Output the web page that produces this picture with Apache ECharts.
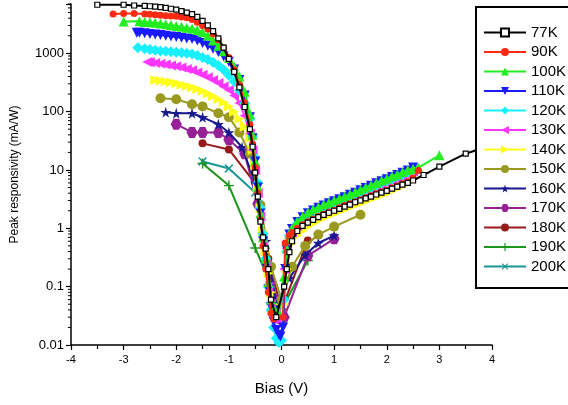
<!DOCTYPE html>
<html>
<head>
<meta charset="utf-8">
<script src="https://cdn.jsdelivr.net/npm/echarts@6/dist/echarts.min.js"></script>
<style>
  html, body { margin: 0; padding: 0; background: #fff; }
  #chart { width: 568px; height: 405px; }
</style>
</head>
<body>
<div id="chart"></div>
<script>
// Peak responsivity vs bias, one curve per temperature: [bias (V), responsivity (mA/W)]
const T77 = [[-3.5,6800],[-3.0,6800],[-2.8,6600],[-2.6,6500],[-2.5,6400],[-2.4,6300],[-2.3,6200],[-2.2,6000],[-2.1,5800],[-2.0,5600],[-1.9,5300],[-1.8,5000],[-1.7,4700],[-1.6,4200],[-1.5,3600],[-1.4,3000],[-1.3,2400],[-1.2,1800],[-1.1,1250],[-1.0,800],[-0.9,480],[-0.8,260],[-0.7,120],[-0.6,50],[-0.55,25],[-0.5,9],[-0.45,3.5],[-0.4,1.3],[-0.35,0.7],[-0.3,0.45],[-0.25,0.2],[-0.2,0.06],[-0.1,0.03],[0.05,0.1],[0.1,0.2],[0.15,0.39],[0.2,0.6],[0.3,0.9],[0.4,1.1],[0.5,1.25],[0.6,1.4],[0.7,1.55],[0.8,1.7],[0.9,1.85],[1.0,2.0],[1.1,2.15],[1.2,2.35],[1.3,2.55],[1.4,2.8],[1.5,3.0],[1.6,3.25],[1.7,3.5],[1.8,3.8],[1.9,4.1],[2.0,4.4],[2.1,4.8],[2.2,5.2],[2.3,5.6],[2.4,6.0],[2.5,6.6],[2.7,8.2],[3.0,11.4],[3.5,19],[4.0,27]];
const T90 = [[-3.2,4700],[-3.0,4800],[-2.8,4800],[-2.6,4700],[-2.5,4650],[-2.4,4600],[-2.3,4500],[-2.2,4400],[-2.1,4350],[-2.0,4300],[-1.9,4200],[-1.8,4050],[-1.7,3800],[-1.6,3400],[-1.5,3000],[-1.4,2600],[-1.3,2150],[-1.2,1700],[-1.1,1250],[-1.0,850],[-0.9,520],[-0.8,290],[-0.7,140],[-0.6,60],[-0.55,28],[-0.5,11],[-0.45,4],[-0.4,1.4],[-0.35,0.5],[-0.3,0.2],[-0.25,0.08],[-0.2,0.035],[-0.15,0.028],[0.03,0.03],[0.07,0.56],[0.15,0.75],[0.2,0.85],[0.3,1.0],[0.4,1.15],[0.5,1.3],[0.6,1.45],[0.7,1.6],[0.8,1.75],[0.9,1.9],[1.0,2.05],[1.1,2.25],[1.2,2.45],[1.3,2.65],[1.4,2.85],[1.5,3.1],[1.6,3.35],[1.7,3.6],[1.8,3.9],[1.9,4.2],[2.0,4.5],[2.1,4.9],[2.2,5.3],[2.3,5.8],[2.4,6.3],[2.5,7.2],[2.6,9.8]];
const T100 = [[-3.0,3500],[-2.7,3550],[-2.6,3450],[-2.5,3400],[-2.4,3350],[-2.3,3250],[-2.2,3150],[-2.1,3050],[-2.0,2950],[-1.9,2850],[-1.8,2750],[-1.7,2650],[-1.6,2500],[-1.5,2300],[-1.4,2000],[-1.3,1650],[-1.2,1350],[-1.1,1080],[-1.0,830],[-0.9,600],[-0.8,400],[-0.7,220],[-0.6,90],[-0.55,40],[-0.5,14],[-0.45,5],[-0.4,1.8],[-0.35,0.7],[-0.3,0.3],[-0.25,0.12],[-0.2,0.06],[-0.15,0.04],[-0.1,0.035],[-0.05,0.035],[0.05,0.15],[0.1,0.45],[0.15,0.8],[0.2,1.0],[0.3,1.32],[0.4,1.6],[0.5,1.87],[0.6,2.1],[0.7,2.3],[0.8,2.55],[0.9,2.75],[1.0,3.0],[1.1,3.25],[1.2,3.5],[1.3,3.85],[1.4,4.2],[1.5,4.6],[1.6,5.0],[1.7,5.5],[1.8,6.0],[1.9,6.6],[2.0,7.1],[2.1,7.8],[2.2,8.4],[2.3,9.2],[2.4,10.0],[2.5,10.5],[2.6,11],[3.0,17.8]];
const T110 = [[-2.75,2250],[-2.7,2250],[-2.6,2200],[-2.5,2150],[-2.4,2100],[-2.3,2050],[-2.2,2000],[-2.1,1950],[-2.0,1900],[-1.9,1850],[-1.8,1800],[-1.7,1750],[-1.6,1650],[-1.5,1500],[-1.4,1350],[-1.3,1200],[-1.2,1050],[-1.1,880],[-1.0,720],[-0.9,530],[-0.8,350],[-0.7,190],[-0.6,80],[-0.55,35],[-0.5,14],[-0.45,5],[-0.4,1.8],[-0.35,0.6],[-0.3,0.22],[-0.25,0.09],[-0.2,0.045],[-0.15,0.025],[-0.1,0.018],[-0.05,0.015],[-0.02,0.014],[0.03,0.02],[0.07,0.2],[0.1,0.42],[0.15,0.78],[0.2,0.97],[0.3,1.28],[0.4,1.55],[0.5,1.82],[0.6,2.03],[0.7,2.25],[0.8,2.46],[0.9,2.68],[1.0,2.9],[1.1,3.15],[1.2,3.42],[1.3,3.75],[1.4,4.07],[1.5,4.5],[1.6,4.9],[1.7,5.35],[1.8,5.9],[1.9,6.4],[2.0,6.95],[2.1,7.6],[2.2,8.2],[2.3,9.0],[2.4,9.8],[2.5,11.0]];
const T120 = [[-2.73,1250],[-2.6,1200],[-2.5,1160],[-2.4,1130],[-2.3,1100],[-2.2,1080],[-2.1,1060],[-2.0,1040],[-1.9,1020],[-1.8,1000],[-1.7,970],[-1.6,920],[-1.5,850],[-1.4,780],[-1.3,700],[-1.2,620],[-1.1,520],[-1.0,420],[-0.9,330],[-0.8,230],[-0.7,140],[-0.6,75],[-0.55,38],[-0.5,16],[-0.45,6],[-0.4,2.2],[-0.35,0.8],[-0.3,0.3],[-0.25,0.1],[-0.2,0.04],[-0.15,0.02],[-0.1,0.013],[-0.05,0.011],[0.0,0.012],[0.05,0.06],[0.1,0.4],[0.15,0.75],[0.2,0.9],[0.3,1.2],[0.4,1.45],[0.5,1.7],[0.6,1.9],[0.7,2.1],[0.8,2.3],[0.9,2.5],[1.0,2.7],[1.1,2.95],[1.2,3.2],[1.3,3.5],[1.4,3.8],[1.5,4.2],[1.6,4.6],[1.7,5.0],[1.8,5.5],[1.9,6.0],[2.0,6.5],[2.1,7.1],[2.2,7.7],[2.3,8.4],[2.4,9.2],[2.5,10.5]];
const T130 = [[-2.55,710],[-2.5,700],[-2.4,680],[-2.3,660],[-2.2,640],[-2.1,620],[-2.0,600],[-1.9,570],[-1.8,540],[-1.7,510],[-1.6,470],[-1.5,430],[-1.4,390],[-1.3,350],[-1.2,310],[-1.1,270],[-1.0,235],[-0.9,190],[-0.8,140],[-0.7,85],[-0.6,42],[-0.55,22],[-0.5,10],[-0.45,4],[-0.4,1.6],[-0.35,0.6],[-0.3,0.25],[-0.25,0.1],[-0.2,0.05],[-0.15,0.03],[-0.1,0.026],[-0.05,0.025],[0.05,0.2],[0.1,0.45],[0.15,0.7],[0.2,0.85],[0.3,1.1],[0.4,1.3],[0.5,1.55],[0.6,1.72],[0.7,1.9],[0.8,2.07],[0.9,2.25],[1.0,2.43],[1.1,2.65],[1.2,2.9],[1.3,3.15],[1.4,3.4],[1.5,3.8],[1.6,4.1],[1.7,4.5],[1.8,4.95],[1.9,5.4],[2.0,5.85],[2.1,6.4],[2.2,6.9],[2.3,7.6],[2.4,8.3],[2.5,9.4]];
const T140 = [[-2.4,350],[-2.3,340],[-2.2,330],[-2.1,320],[-2.0,305],[-1.9,290],[-1.8,275],[-1.7,260],[-1.6,245],[-1.5,225],[-1.4,205],[-1.3,185],[-1.2,165],[-1.1,145],[-1.0,122],[-0.9,100],[-0.8,75],[-0.7,55],[-0.6,35],[-0.55,22],[-0.5,12],[-0.45,5],[-0.4,2.2],[-0.35,0.9],[-0.3,0.4],[-0.25,0.17],[-0.2,0.08],[-0.15,0.05],[-0.1,0.035],[-0.05,0.03],[0.05,0.05],[0.1,0.2],[0.15,0.4],[0.2,0.55],[0.3,0.75],[0.4,0.9],[0.5,1.05],[0.6,1.2],[0.7,1.35],[0.8,1.5],[0.9,1.65],[1.0,1.8],[1.1,1.95],[1.2,2.1],[1.3,2.3],[1.4,2.5],[1.5,2.7],[1.6,2.9],[1.7,3.15],[1.8,3.4],[1.9,3.7],[2.0,4.0],[2.1,4.4],[2.2,4.8],[2.3,5.3],[2.4,6.0],[2.5,7.5]];
const T150 = [[-2.3,170],[-2.0,163],[-1.7,134],[-1.5,123],[-1.2,94],[-1.0,80],[-0.8,44],[-0.6,19],[-0.4,2.5],[-0.2,0.22],[0.0,0.06],[0.2,0.22],[0.45,0.5],[0.7,0.78],[1.0,1.07],[1.5,1.71]];
const T160 = [[-2.2,98],[-2.0,94],[-1.7,94],[-1.5,80],[-1.2,61],[-1.0,44],[-0.75,24.5],[-0.5,6],[-0.3,0.6],[-0.1,0.05],[0.15,0.14],[0.45,0.35],[0.7,0.56],[1.0,0.75]];
const T170 = [[-2.0,61],[-1.7,44],[-1.5,44],[-1.2,44],[-1.0,33],[-0.7,19],[-0.45,2.65],[-0.2,0.12],[0.05,0.03],[0.5,0.34],[1.0,0.66]];
const T180 = [[-1.5,28.6],[-1.0,22.5],[-0.5,5.9],[-0.25,0.3],[0.0,0.04],[0.5,0.62]];
const T190 = [[-1.5,12.9],[-1.0,5.4],[-0.5,0.46],[0.0,0.041],[0.5,0.28]];
const T200 = [[-1.5,14],[-1.0,10.6],[-0.5,4.1],[-0.3,0.4],[-0.05,0.03]];

const NAMES = ['77K','90K','100K','110K','120K','130K','140K','150K','160K','170K','180K','190K','200K'];
const CURVES = [T77, T90, T100, T110, T120, T130, T140, T150, T160, T170, T180, T190, T200];

// axis ranges
const Y_MIN = 0.01, Y_MAX = 7000;
const X_MIN = -4, X_MAX = 4, X_STEP = 1;

const STAR = 'path://M50,0 L61,35 L98,35 L68,57 L79,91 L50,70 L21,91 L32,57 L2,35 L39,35 Z';
const HEX = 'path://M25,0 L75,0 L100,43 L75,86 L25,86 L0,43 Z';
const PLUS = 'path://M43,0 H57 V43 H100 V57 H57 V100 H43 V57 H0 V43 H43 Z';

const STYLES = [
  { color: '#000000', symbol: 'rect', size: 5, hollow: true },
  { color: '#ff2a12', symbol: 'circle', size: 7 },
  { color: '#22ee22', symbol: 'triangle', size: 10 },
  { color: '#1a1aff', symbol: 'triangle', size: 10, rotate: 180 },
  { color: '#19f0ff', symbol: 'diamond', size: 11 },
  { color: '#ff36ff', symbol: 'triangle', size: 10, rotate: 90 },
  { color: '#ffff1a', symbol: 'triangle', size: 10, rotate: -90 },
  { color: '#9a9a20', symbol: 'circle', size: 10 },
  { color: '#181890', symbol: STAR, size: 11 },
  { color: '#962096', symbol: HEX, size: 11 },
  { color: '#961a1a', symbol: 'circle', size: 8 },
  { color: '#1a961a', symbol: PLUS, size: 10 },
  { color: '#1a9696', symbol: PLUS, size: 11, rotate: 45 }
];

// minor tick positions on the log axis (2..9 of each decade)
const minorTicks = [];
for (let e = -2; e <= 3; e++) {
  for (let m = 2; m <= 9; m++) {
    const v = +(m * Math.pow(10, e)).toPrecision(2);
    if (v <= Y_MAX) minorTicks.push([X_MIN, v]);
  }
}

const series = CURVES.map((d, i) => {
  const st = STYLES[i];
  return {
    name: NAMES[i],
    type: 'line',
    data: d,
    z: 30 - i,
    symbol: st.symbol,
    symbolSize: st.size,
    symbolRotate: st.rotate || 0,
    showAllSymbol: true,
    clip: false,
    animation: false,
    lineStyle: { color: st.color, width: 2 },
    itemStyle: st.hollow
      ? { color: '#ffffff', borderColor: st.color, borderWidth: 1.2 }
      : { color: st.color, borderWidth: 0 }
  };
});

series.push({
  type: 'custom',
  name: 'minor',
  data: minorTicks,
  silent: true,
  animation: false,
  clip: false,
  z: 5,
  renderItem: function (params, api) {
    const p = api.coord([api.value(0), api.value(1)]);
    return {
      type: 'line',
      shape: { x1: p[0] - 3, y1: p[1], x2: p[0], y2: p[1] },
      style: { stroke: '#000', lineWidth: 1 }
    };
  }
});

const chart = echarts.init(document.getElementById('chart'), null, { renderer: 'canvas' });
chart.setOption({
  backgroundColor: '#ffffff',
  animation: false,
  grid: { left: 71, right: 76, top: 4, bottom: 60, containLabel: false },
  xAxis: {
    type: 'value',
    min: X_MIN, max: X_MAX, interval: X_STEP,
    name: 'Bias (V)',
    nameLocation: 'middle',
    nameGap: 36,
    nameTextStyle: { color: '#000', fontSize: 15, fontFamily: 'Liberation Sans' },
    axisLine: { onZero: false, lineStyle: { color: '#000', width: 1.5 } },
    axisTick: { inside: false, length: 5, lineStyle: { color: '#000', width: 1.2 } },
    minorTick: { show: true, splitNumber: 2, length: 4, lineStyle: { color: '#000', width: 1.2 } },
    splitLine: { show: false },
    axisLabel: { color: '#000', fontSize: 11, fontFamily: 'Liberation Sans', margin: 9 }
  },
  yAxis: {
    type: 'log',
    logBase: 10,
    min: Y_MIN, max: Y_MAX,
    name: 'Peak responsivity (mA/W)',
    nameLocation: 'middle',
    nameGap: 50,
    nameTextStyle: { color: '#000', fontSize: 12, fontFamily: 'Liberation Sans' },
    axisLine: { onZero: false, lineStyle: { color: '#000', width: 1.5 } },
    axisTick: { inside: false, length: 5, lineStyle: { color: '#000', width: 1.2 } },
    splitLine: { show: false },
    axisLabel: {
      color: '#000', fontSize: 13, fontFamily: 'Liberation Sans', margin: 7,
      formatter: function (v) {
        const l = Math.log10(v);
        if (Math.abs(l - Math.round(l)) > 1e-6) return '';
        return String(+v.toPrecision(1));
      }
    }
  },
  legend: {
    data: NAMES,
    orient: 'vertical',
    left: 476,
    top: 7,
    z: 50,
    selectedMode: false,
    backgroundColor: '#ffffff',
    borderColor: '#000',
    borderWidth: 2,
    padding: [18, 4, 14, 7],
    itemWidth: 42,
    itemHeight: 10,
    itemGap: 4.5,
    textStyle: { color: '#000', fontSize: 15, fontFamily: 'Liberation Sans', lineHeight: 15 }
  },
  series: series
});
</script>
</body>
</html>
